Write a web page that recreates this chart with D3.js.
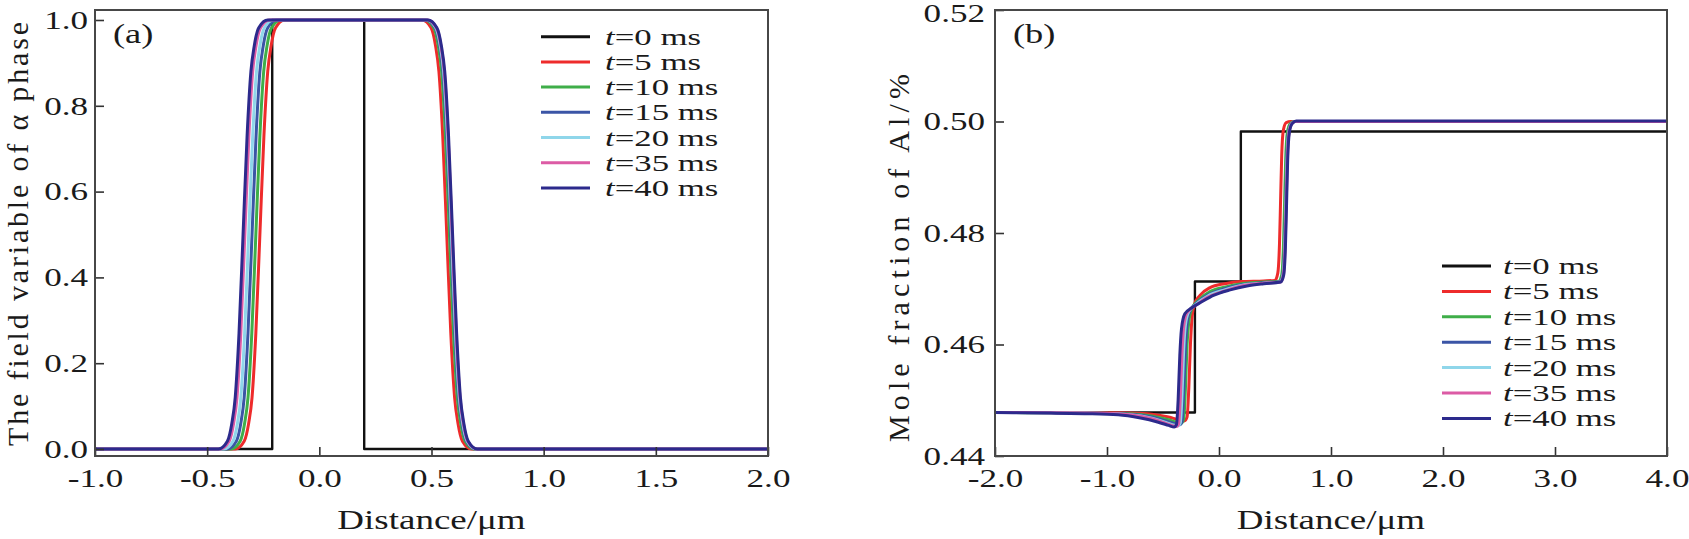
<!DOCTYPE html>
<html>
<head>
<meta charset="utf-8">
<script src="https://cdn.jsdelivr.net/npm/d3@7"></script>
<style>
  body { margin: 0; background: #fff; }
  svg { display: block; font-family: "Liberation Serif", "Times New Roman", serif; }
</style>
</head>
<body>
<div id="chart"></div>
<script>
// snapshot times (ms), one curve per time in each panel
var times = ["0", "5", "10", "15", "20", "35", "40"];
var seriesColors = ["#111111", "#ee2b2b", "#3fae49", "#3b55a6", "#8fd6ea", "#dc5ba5", "#2c2a8c"];

// (a) field variable of alpha phase vs distance (um)
var phiT0 = [[-1, 0], [-0.21, 0], [-0.21, 1], [0.2, 1], [0.2, 0], [2, 0]];
var phiT5 = [[-1, 0], [-0.375, 0], [-0.335, 0.018], [-0.315, 0.06], [-0.300, 0.12], [-0.283, 0.27], [-0.265, 0.5], [-0.247, 0.73], [-0.230, 0.88], [-0.215, 0.94], [-0.195, 0.982], [-0.155, 1],
  [0.458, 1], [0.498, 0.982], [0.518, 0.94], [0.533, 0.88], [0.550, 0.73], [0.568, 0.5], [0.586, 0.27], [0.603, 0.12], [0.618, 0.06], [0.638, 0.018], [0.678, 0], [2, 0]];
var phiT10 = [[-1, 0], [-0.393, 0], [-0.353, 0.018], [-0.333, 0.06], [-0.318, 0.12], [-0.301, 0.27], [-0.283, 0.5], [-0.265, 0.73], [-0.248, 0.88], [-0.233, 0.94], [-0.213, 0.982], [-0.173, 1],
  [0.470, 1], [0.510, 0.982], [0.530, 0.94], [0.545, 0.88], [0.562, 0.73], [0.580, 0.5], [0.598, 0.27], [0.615, 0.12], [0.630, 0.06], [0.650, 0.018], [0.690, 0], [2, 0]];
var phiT15 = [[-1, 0], [-0.410, 0], [-0.370, 0.018], [-0.350, 0.06], [-0.335, 0.12], [-0.318, 0.27], [-0.300, 0.5], [-0.282, 0.73], [-0.265, 0.88], [-0.250, 0.94], [-0.230, 0.982], [-0.190, 1],
  [0.476, 1], [0.516, 0.982], [0.536, 0.94], [0.551, 0.88], [0.568, 0.73], [0.586, 0.5], [0.604, 0.27], [0.621, 0.12], [0.636, 0.06], [0.656, 0.018], [0.696, 0], [2, 0]];
var phiT20 = [[-1, 0], [-0.425, 0], [-0.385, 0.018], [-0.365, 0.06], [-0.350, 0.12], [-0.333, 0.27], [-0.315, 0.5], [-0.297, 0.73], [-0.280, 0.88], [-0.265, 0.94], [-0.245, 0.982], [-0.205, 1],
  [0.479, 1], [0.519, 0.982], [0.539, 0.94], [0.554, 0.88], [0.571, 0.73], [0.589, 0.5], [0.607, 0.27], [0.624, 0.12], [0.639, 0.06], [0.659, 0.018], [0.699, 0], [2, 0]];
var phiT35 = [[-1, 0], [-0.442, 0], [-0.402, 0.018], [-0.382, 0.06], [-0.367, 0.12], [-0.350, 0.27], [-0.332, 0.5], [-0.314, 0.73], [-0.297, 0.88], [-0.282, 0.94], [-0.262, 0.982], [-0.222, 1],
  [0.482, 1], [0.522, 0.982], [0.542, 0.94], [0.557, 0.88], [0.574, 0.73], [0.592, 0.5], [0.610, 0.27], [0.627, 0.12], [0.642, 0.06], [0.662, 0.018], [0.702, 0], [2, 0]];
var phiT40 = [[-1, 0], [-0.450, 0], [-0.410, 0.018], [-0.390, 0.06], [-0.375, 0.12], [-0.358, 0.27], [-0.340, 0.5], [-0.322, 0.73], [-0.305, 0.88], [-0.290, 0.94], [-0.270, 0.982], [-0.230, 1],
  [0.484, 1], [0.524, 0.982], [0.544, 0.94], [0.559, 0.88], [0.576, 0.73], [0.594, 0.5], [0.612, 0.27], [0.629, 0.12], [0.644, 0.06], [0.664, 0.018], [0.704, 0], [2, 0]];

// (b) mole fraction of Al vs distance (um)
var alT0 = [[-2, 0.4478], [-0.215, 0.4478], [-0.215, 0.4713], [0.195, 0.4713], [0.195, 0.4982], [4, 0.4982]];
var alT5 = [[-2, 0.4478], [-1.2, 0.4478], [-0.8, 0.4477], [-0.6, 0.4475], [-0.45, 0.4470], [-0.36, 0.4465], [-0.31, 0.4463], [-0.285, 0.4470], [-0.27, 0.4520], [-0.255, 0.4600], [-0.24, 0.4650], [-0.22, 0.4672], [-0.17, 0.4688], [-0.08, 0.4702], [0.05, 0.4709], [0.2, 0.4713], [0.4, 0.4714], [0.5, 0.4715],
  [0.525, 0.4728], [0.54, 0.4780], [0.55, 0.4860], [0.56, 0.4940], [0.575, 0.4985], [0.60, 0.4998], [0.64, 0.5000], [4, 0.5000]];
var alT10 = [[-2, 0.4478], [-1.2, 0.4477], [-0.8, 0.4476], [-0.6, 0.4472], [-0.45, 0.4465], [-0.37, 0.4460], [-0.335, 0.4459], [-0.315, 0.4466], [-0.30, 0.4520], [-0.285, 0.4600], [-0.27, 0.4640], [-0.245, 0.4663], [-0.18, 0.4680], [-0.08, 0.4695], [0.05, 0.4703], [0.2, 0.4709], [0.4, 0.4712], [0.53, 0.4713],
  [0.56, 0.4725], [0.575, 0.4775], [0.585, 0.4850], [0.595, 0.4930], [0.61, 0.4980], [0.635, 0.4996], [0.67, 0.5000], [4, 0.5000]];
var alT15 = [[-2, 0.4478], [-1.2, 0.4477], [-0.8, 0.4475], [-0.6, 0.4470], [-0.46, 0.4462], [-0.38, 0.4457], [-0.35, 0.4456], [-0.33, 0.4462], [-0.315, 0.4515], [-0.30, 0.4595], [-0.285, 0.4637], [-0.26, 0.4660], [-0.19, 0.4676], [-0.09, 0.4690], [0.05, 0.4700], [0.2, 0.4707], [0.4, 0.4711], [0.54, 0.4712],
  [0.57, 0.4725], [0.585, 0.4775], [0.595, 0.4850], [0.605, 0.4930], [0.62, 0.4980], [0.645, 0.4996], [0.68, 0.5000], [4, 0.5000]];
var alT20 = [[-2, 0.4478], [-1.2, 0.4477], [-0.8, 0.4474], [-0.6, 0.4468], [-0.47, 0.4460], [-0.40, 0.4455], [-0.365, 0.4454], [-0.345, 0.4460], [-0.33, 0.4512], [-0.315, 0.4592], [-0.30, 0.4635], [-0.27, 0.4659], [-0.2, 0.4673], [-0.1, 0.4687], [0.05, 0.4698], [0.2, 0.4706], [0.4, 0.4710], [0.545, 0.4712],
  [0.572, 0.4725], [0.588, 0.4775], [0.598, 0.4850], [0.608, 0.4930], [0.623, 0.4980], [0.648, 0.4996], [0.68, 0.5000], [4, 0.5000]];
var alT35 = [[-2, 0.4478], [-1.2, 0.4477], [-0.8, 0.4474], [-0.6, 0.4467], [-0.48, 0.4459], [-0.41, 0.4454], [-0.38, 0.4453], [-0.36, 0.4458], [-0.345, 0.4505], [-0.33, 0.4585], [-0.315, 0.4632], [-0.285, 0.4657], [-0.2, 0.4671], [-0.1, 0.4685], [0.05, 0.4696], [0.2, 0.4705], [0.4, 0.4710], [0.55, 0.4712],
  [0.575, 0.4725], [0.59, 0.4775], [0.60, 0.4850], [0.61, 0.4930], [0.625, 0.4980], [0.65, 0.4996], [0.68, 0.5000], [4, 0.5000]];
var alT40 = [[-2, 0.4478], [-1.5, 0.4477], [-1.2, 0.4476], [-0.9, 0.4474], [-0.7, 0.4468], [-0.55, 0.4461], [-0.45, 0.4455], [-0.40, 0.4452], [-0.38, 0.4456], [-0.365, 0.4500], [-0.35, 0.4580], [-0.335, 0.4628], [-0.305, 0.4655], [-0.25, 0.4665], [-0.15, 0.4677], [-0.05, 0.4688], [0.1, 0.4698], [0.25, 0.4705], [0.4, 0.4709], [0.55, 0.4712],
  [0.578, 0.4725], [0.593, 0.4775], [0.603, 0.4850], [0.613, 0.4930], [0.628, 0.4980], [0.653, 0.4996], [0.69, 0.5001], [4, 0.5001]];

// ticks
var xTicksA = [-1.0, -0.5, 0.0, 0.5, 1.0, 1.5, 2.0];
var xTickLabelsA = ["-1.0", "-0.5", "0.0", "0.5", "1.0", "1.5", "2.0"];
var yTicksA = [0.0, 0.2, 0.4, 0.6, 0.8, 1.0];
var yTickLabelsA = ["0.0", "0.2", "0.4", "0.6", "0.8", "1.0"];
var xTicksB = [-2, -1, 0, 1, 2, 3, 4];
var xTickLabelsB = ["-2.0", "-1.0", "0.0", "1.0", "2.0", "3.0", "4.0"];
var yTicksB = [0.44, 0.46, 0.48, 0.50, 0.52];
var yTickLabelsB = ["0.44", "0.46", "0.48", "0.50", "0.52"];

var W = 1689, H = 539;
var textColor = "#1a1a1a";
var stretch = "scale(1.35,1)"; // the source figure's lettering is wide

var svg = d3.select("#chart").append("svg")
  .attr("width", W)
  .attr("height", H);

function drawPanel(p) {
  var g = svg.append("g");
  var x = d3.scaleLinear().domain(p.xDomain).range([p.left, p.right]);
  var y = d3.scaleLinear().domain(p.yDomain).range([p.bottom, p.top]);

  svg.append("clipPath").attr("id", p.id + "-clip")
    .append("rect")
    .attr("x", p.left).attr("y", p.top)
    .attr("width", p.right - p.left).attr("height", p.bottom - p.top);

  // curves: t=0 is a sharp step, the others are smooth
  p.series.forEach(function (s, i) {
    var line = d3.line()
      .x(function (d) { return x(d[0]); })
      .y(function (d) { return y(d[1]); })
      .curve(i === 0 ? d3.curveLinear : d3.curveMonotoneX);
    g.append("path")
      .datum(s)
      .attr("clip-path", "url(#" + p.id + "-clip)")
      .attr("fill", "none")
      .attr("stroke", seriesColors[i])
      .attr("stroke-width", i === 0 ? 2.4 : 3)
      .attr("stroke-linejoin", "round")
      .attr("d", line);
  });

  // axes with inward ticks
  var xAxis = d3.axisBottom(x)
    .tickValues(p.xTicks)
    .tickFormat(function (d, i) { return p.xTickLabels[i]; })
    .tickSizeInner(-9).tickSizeOuter(0).tickPadding(13);
  var gx = g.append("g").attr("transform", "translate(0," + p.bottom + ")").call(xAxis);
  gx.select(".domain").remove();

  var yAxis = d3.axisLeft(y)
    .tickValues(p.yTicks)
    .tickFormat(function (d, i) { return p.yTickLabels[i]; })
    .tickSizeInner(-9).tickSizeOuter(0).tickPadding(p.yPad);
  var gy = g.append("g").attr("transform", "translate(" + p.left + ",0)").call(yAxis);
  gy.select(".domain").remove();

  [gx, gy].forEach(function (ax) {
    ax.attr("font-family", null).attr("font-size", null);
    ax.selectAll(".tick line").attr("stroke", "#333").attr("stroke-width", 1.6);
    ax.selectAll(".tick text")
      .attr("font-size", 26)
      .attr("fill", textColor)
      .attr("transform", stretch);
  });
  // keep the topmost y label inside the picture
  gy.selectAll(".tick text").filter(function (d) { return y(d) < 16; })
    .attr("dy", "0.45em");

  // frame
  g.append("rect")
    .attr("x", p.left).attr("y", p.top)
    .attr("width", p.right - p.left).attr("height", p.bottom - p.top)
    .attr("fill", "none")
    .attr("stroke", "#474747")
    .attr("stroke-width", 2);

  // panel tag
  g.append("text")
    .attr("transform", "translate(" + (p.left + 18) + "," + (p.top + 33) + ") scale(1.3,1)")
    .attr("font-size", 28)
    .attr("fill", textColor)
    .text(p.tag);

  // x label
  g.append("text")
    .attr("transform", "translate(" + ((p.left + p.right) / 2) + ",529) scale(1.37,1)")
    .attr("text-anchor", "middle")
    .attr("font-size", 27)
    .attr("fill", textColor)
    .text("Distance/\u03bcm");

  // y label
  g.append("text")
    .attr("transform", "translate(" + p.yLabelX + "," + p.yLabelY + ") rotate(-90)")
    .attr("text-anchor", "middle")
    .attr("font-size", 30)
    .attr("fill", textColor)
    .attr("textLength", p.yLabelLen)
    .attr("lengthAdjust", "spacing")
    .text(p.yLabel);

  // legend
  var lg = g.append("g");
  times.forEach(function (t, i) {
    var cy = p.legendY + i * p.legendStep;
    lg.append("line")
      .attr("x1", p.legendX).attr("x2", p.legendX + 49)
      .attr("y1", cy).attr("y2", cy)
      .attr("stroke", seriesColors[i])
      .attr("stroke-width", 3);
    var tx = lg.append("text")
      .attr("transform", "translate(" + p.legendTextX + "," + (cy + 8) + ") scale(1.45,1)")
      .attr("font-size", 24)
      .attr("fill", textColor);
    tx.append("tspan").attr("font-style", "italic").text("t");
    tx.append("tspan").text("=" + t + " ms");
  });
}

drawPanel({
  id: "pa", tag: "(a)",
  left: 95, right: 768, top: 10, bottom: 456,
  xDomain: [-1, 2], yDomain: [-0.0163, 1.0233],
  series: [phiT0, phiT5, phiT10, phiT15, phiT20, phiT35, phiT40],
  xTicks: xTicksA, xTickLabels: xTickLabelsA,
  yTicks: yTicksA, yTickLabels: yTickLabelsA, yPad: 5.2,
  yLabel: "The field variable of \u03b1 phase", yLabelX: 28, yLabelY: 234, yLabelLen: 424,
  legendX: 541, legendTextX: 605, legendY: 36.7, legendStep: 25.2
});

drawPanel({
  id: "pb", tag: "(b)",
  left: 995, right: 1667, top: 10, bottom: 456,
  xDomain: [-2, 4], yDomain: [0.44, 0.52],
  series: [alT0, alT5, alT10, alT15, alT20, alT35, alT40],
  xTicks: xTicksB, xTickLabels: xTickLabelsB,
  yTicks: yTicksB, yTickLabels: yTickLabelsB, yPad: 7.4,
  yLabel: "Mole fraction of Al/%", yLabelX: 909, yLabelY: 258, yLabelLen: 368,
  legendX: 1442, legendTextX: 1503, legendY: 266, legendStep: 25.4
});
</script>
</body>
</html>
